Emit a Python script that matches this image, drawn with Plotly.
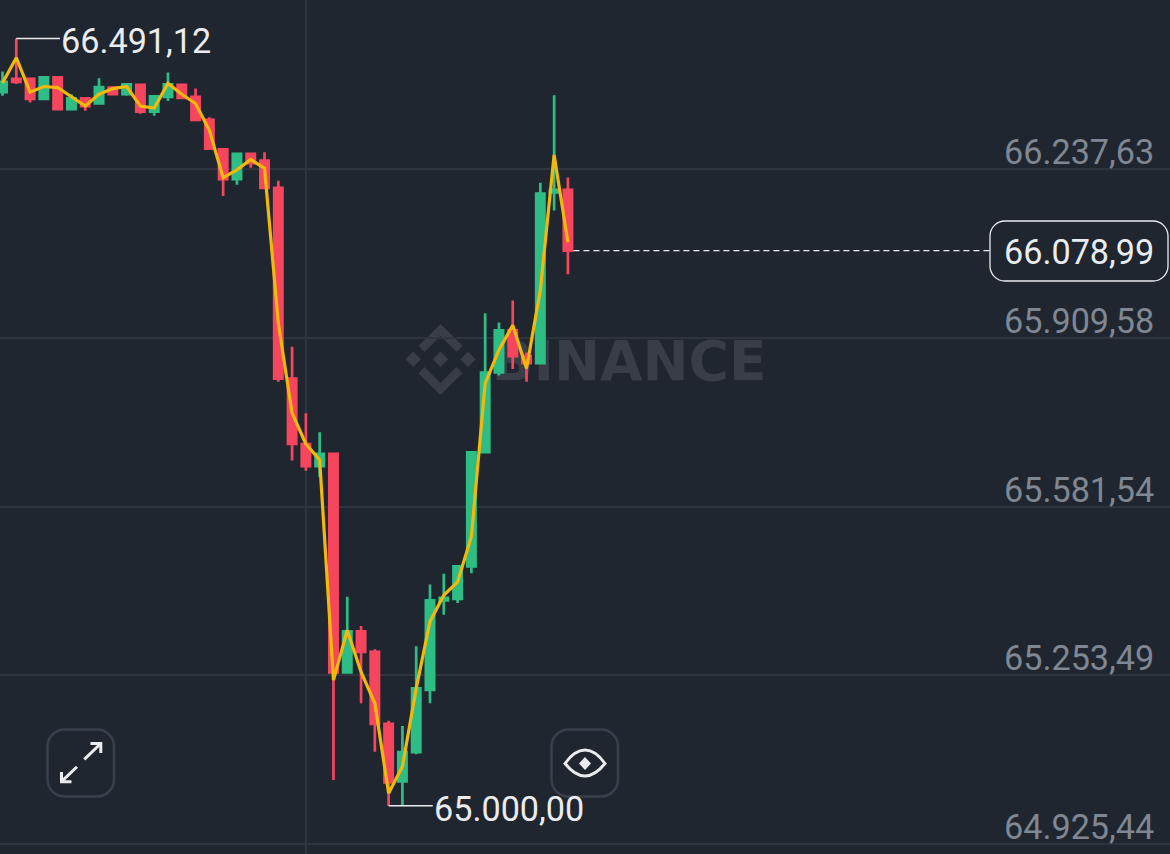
import plotly.graph_objects as go

# Candle data (BTC/USDT style prices)
opens = [66387,66413,66413,66374,66416,66354,66375,66365,66396,66383,66401,66349,66378,66401,66378,66333,66276,66218,66267,66254,
         66201,65830,65703,65660,65684,65259,65339,65299,65159,65047,65104,65225,65399,65402,65465,65687,65842,65924,65874,65860,66192,66197]
highs = [66427,66491.12,66415,66416,66416,66383,66375,66414,66396,66405,66401,66379,66425,66401,66394,66338,66276,66267,66267,66270,
         66215,65892,65763,65726,65684,65406,65349,65304,65165,65155,65310,65430,65451,65465,65687,65957,65939,65982,65881,66211,66381,66221]
lows = [66380,66403,66367,66374,66354,66354,66351,66365,66383,66380,66345,66341,66370,66376,66333,66277,66185,66207,66240,66201,
        65824,65671,65651,65639,65050,65259,65199,65105,65000.00,65000,65100,65199,65371,65394,65452,65687,65836,65849,65824,65860,66157,66033]
closes = [66407,66407,66374,66416,66354,66375,66360,66397,66383,66402,66349,66379,66402,66376,66333,66277,66218,66267,66249,66201,
          65830,65703,65660,65684,65259,65339,65299,65159,65045,65104,65228,65399,65404,65465,65687,65842,65924,65874,65860,66190,66197,66078.99]
ma_line = [66405,66454,66387,66398,66396,66378,66360,66383,66394,66398,66360,66356,66404,66383,66365,66313,66221,66236,66256,66239,
           65938,65763,65703,65672,65244,65341,65260,65199,65024,65076,65228,65358,65409,65435,65523,65821,65886,65934,65850,66002,66265,66095]

grid_prices = [66565.68, 66237.63, 65909.58, 65581.54, 65253.49, 64925.44]
axis_labels = ["66.237,63", "65.909,58", "65.581,54", "65.253,49", "64.925,44"]
high_label = "66.491,12"
low_label = "65.000,00"
last_label = "66.078,99"
last_price = 66078.99
high_price = 66491.12
low_price = 65000.00
candle_index = list(range(len(opens)))

W, H = 1170, 854
BG = "#1f2630"
GRID = "#2f353f"
GREEN = "#2EBD85"
RED = "#F6465D"
GOLD = "#F0B90B"
TXT = "#EAECEF"
GREY = "#7f8792"
MARK = "#383d48"
FONT = "Roboto"
FSIZE = 34.2


def fx(p):
    return p / W


def fy(p):
    return 1 - p / H


def poly(points):
    return "M" + " L".join(f"{fx(a):.5f},{fy(b):.5f}" for a, b in points) + " Z"


def open_path(points):
    return "M" + " L".join(f"{fx(a):.5f},{fy(b):.5f}" for a, b in points)


def rrect(x0, y0, x1, y1, r):
    k = 0.45 * r
    c = lambda a, b: f"{fx(a):.5f},{fy(b):.5f}"
    return (f"M{c(x0+r,y0)} L{c(x1-r,y0)} C{c(x1-k,y0)} {c(x1,y0+k)} {c(x1,y0+r)} "
            f"L{c(x1,y1-r)} C{c(x1,y1-k)} {c(x1-k,y1)} {c(x1-r,y1)} "
            f"L{c(x0+r,y1)} C{c(x0+k,y1)} {c(x0,y1-k)} {c(x0,y1-r)} "
            f"L{c(x0,y0+r)} C{c(x0,y0+k)} {c(x0+k,y0)} {c(x0+r,y0)} Z")


fig = go.Figure()
fig.add_trace(go.Candlestick(
    x=candle_index, open=opens, high=highs, low=lows, close=closes,
    increasing=dict(line=dict(color=GREEN, width=2.7), fillcolor=GREEN),
    decreasing=dict(line=dict(color=RED, width=2.7), fillcolor=RED),
    whiskerwidth=0, showlegend=False, hoverinfo="skip",
))
fig.add_trace(go.Scatter(
    x=candle_index, y=ma_line, mode="lines",
    line=dict(color=GOLD, width=3.2), showlegend=False, hoverinfo="skip",
))

shapes = []
# watermark
for pts in (
    [(440.5, 324), (462.5, 345.7), (456.5, 352), (440.5, 336), (424.5, 352), (418.5, 345.7)],
    [(440.5, 395), (462.5, 373.3), (456.5, 367), (440.5, 383), (424.5, 367), (418.5, 373.3)],
    [(440.5, 351.6), (448.2, 359.3), (440.5, 367), (432.8, 359.3)],
    [(413.3, 351.6), (421, 359.3), (413.3, 367), (405.6, 359.3)],
    [(468, 351.6), (475.7, 359.3), (468, 367), (460.3, 359.3)],
):
    shapes.append(dict(type="path", xref="paper", yref="paper", path=poly(pts),
                       fillcolor=MARK, line=dict(width=0), layer="below"))
shapes.append(dict(type="rect", xref="paper", yref="paper",
                   x0=fx(480), x1=fx(778), y0=fy(387), y1=fy(327),
                   line=dict(width=0), fillcolor="rgba(0,0,0,0)", layer="below",
                   label=dict(text="<b>BINANCE</b>", font=dict(family="DejaVu Sans", size=55, color=MARK),
                              textposition="middle center")))

# leaders
shapes.append(dict(type="line", x0=1, x1=4.17, y0=high_price, y1=high_price,
                   line=dict(color=TXT, width=1.5)))
shapes.append(dict(type="line", x0=28, x1=31.2, y0=low_price, y1=low_price,
                   line=dict(color=TXT, width=1.5)))
# last price
shapes.append(dict(type="line", x0=41.4, x1=71.6, y0=last_price, y1=last_price,
                   line=dict(color=TXT, width=1.3, dash="6px,4px")))
shapes.append(dict(type="path", xref="paper", yref="paper", path=rrect(990, 221, 1168, 281, 15),
                   fillcolor=BG, line=dict(color=TXT, width=1.3)))
# buttons
for x0, x1 in ((47.5, 114), (551.5, 618)):
    shapes.append(dict(type="path", xref="paper", yref="paper", path=rrect(x0, 729.5, x1, 796.5, 17),
                       fillcolor="rgba(0,0,0,0)", line=dict(color="#3a404b", width=2.5)))
# expand icon
for pts in (
    [(84.3, 759.3), (100.8, 743.5)],
    [(90.5, 743.5), (100.8, 743.5), (100.8, 753)],
    [(77, 766.7), (61.5, 781.7)],
    [(61.5, 772), (61.5, 781.7), (71.5, 781.7)],
):
    shapes.append(dict(type="path", xref="paper", yref="paper", path=open_path(pts),
                       line=dict(color=TXT, width=3)))
# eye icon
c = lambda a, b: f"{fx(a):.5f},{fy(b):.5f}"
eye = (f"M{c(565,763.5)} C{c(571,755)} {c(578,750)} {c(585,750)} C{c(592,750)} {c(599,755)} {c(605,763.5)} "
       f"C{c(599,771)} {c(592,776)} {c(585,776)} C{c(578,776)} {c(571,771)} {c(565,763.5)} Z")
shapes.append(dict(type="path", xref="paper", yref="paper", path=eye,
                   fillcolor="rgba(0,0,0,0)", line=dict(color=TXT, width=3)))
shapes.append(dict(type="path", xref="paper", yref="paper",
                   path=poly([(585, 757), (591, 763.5), (585, 770), (579, 763.5)]),
                   fillcolor=TXT, line=dict(width=0)))

annotations = []
for price, text in zip(grid_prices[1:], axis_labels):
    annotations.append(dict(x=fx(1156), xref="paper", y=price, yref="y", xanchor="right", yanchor="bottom",
                            yshift=-5, text=text, showarrow=False,
                            font=dict(family=FONT, size=FSIZE, color=GREY)))
annotations.append(dict(x=fx(1156), xref="paper", y=last_price, yref="y", xanchor="right", yanchor="middle",
                        yshift=-1, text=last_label, showarrow=False, font=dict(family=FONT, size=FSIZE, color=TXT)))
annotations.append(dict(x=4.1, y=high_price, xanchor="left", yanchor="middle", yshift=-2, text=high_label,
                        showarrow=False, font=dict(family=FONT, size=FSIZE, color=TXT)))
annotations.append(dict(x=31.15, y=low_price, xanchor="left", yanchor="middle", yshift=-3, text=low_label,
                        showarrow=False, font=dict(family=FONT, size=FSIZE, color=TXT)))

fig.update_layout(
    width=W, height=H, margin=dict(l=0, r=0, t=0, b=0),
    paper_bgcolor=BG, plot_bgcolor=BG, boxgap=0.4, boxgroupgap=0, showlegend=False, hovermode=False,
    shapes=shapes, annotations=annotations,
    xaxis=dict(range=[-0.181, 84.66], rangeslider=dict(visible=False), tickmode="array", tickvals=[22],
               showticklabels=False, showgrid=True, gridcolor=GRID, gridwidth=1.5, zeroline=False,
               ticks="", showline=False),
    yaxis=dict(range=[64905.99, 66566.17], tickmode="array", tickvals=grid_prices,
               showticklabels=False, showgrid=True, gridcolor=GRID, gridwidth=1.5, zeroline=False,
               ticks="", showline=False),
)

fig.write_html("out.html", config=dict(displayModeBar=False),
               post_script="document.body.style.margin='0';document.body.style.overflow='hidden';")
